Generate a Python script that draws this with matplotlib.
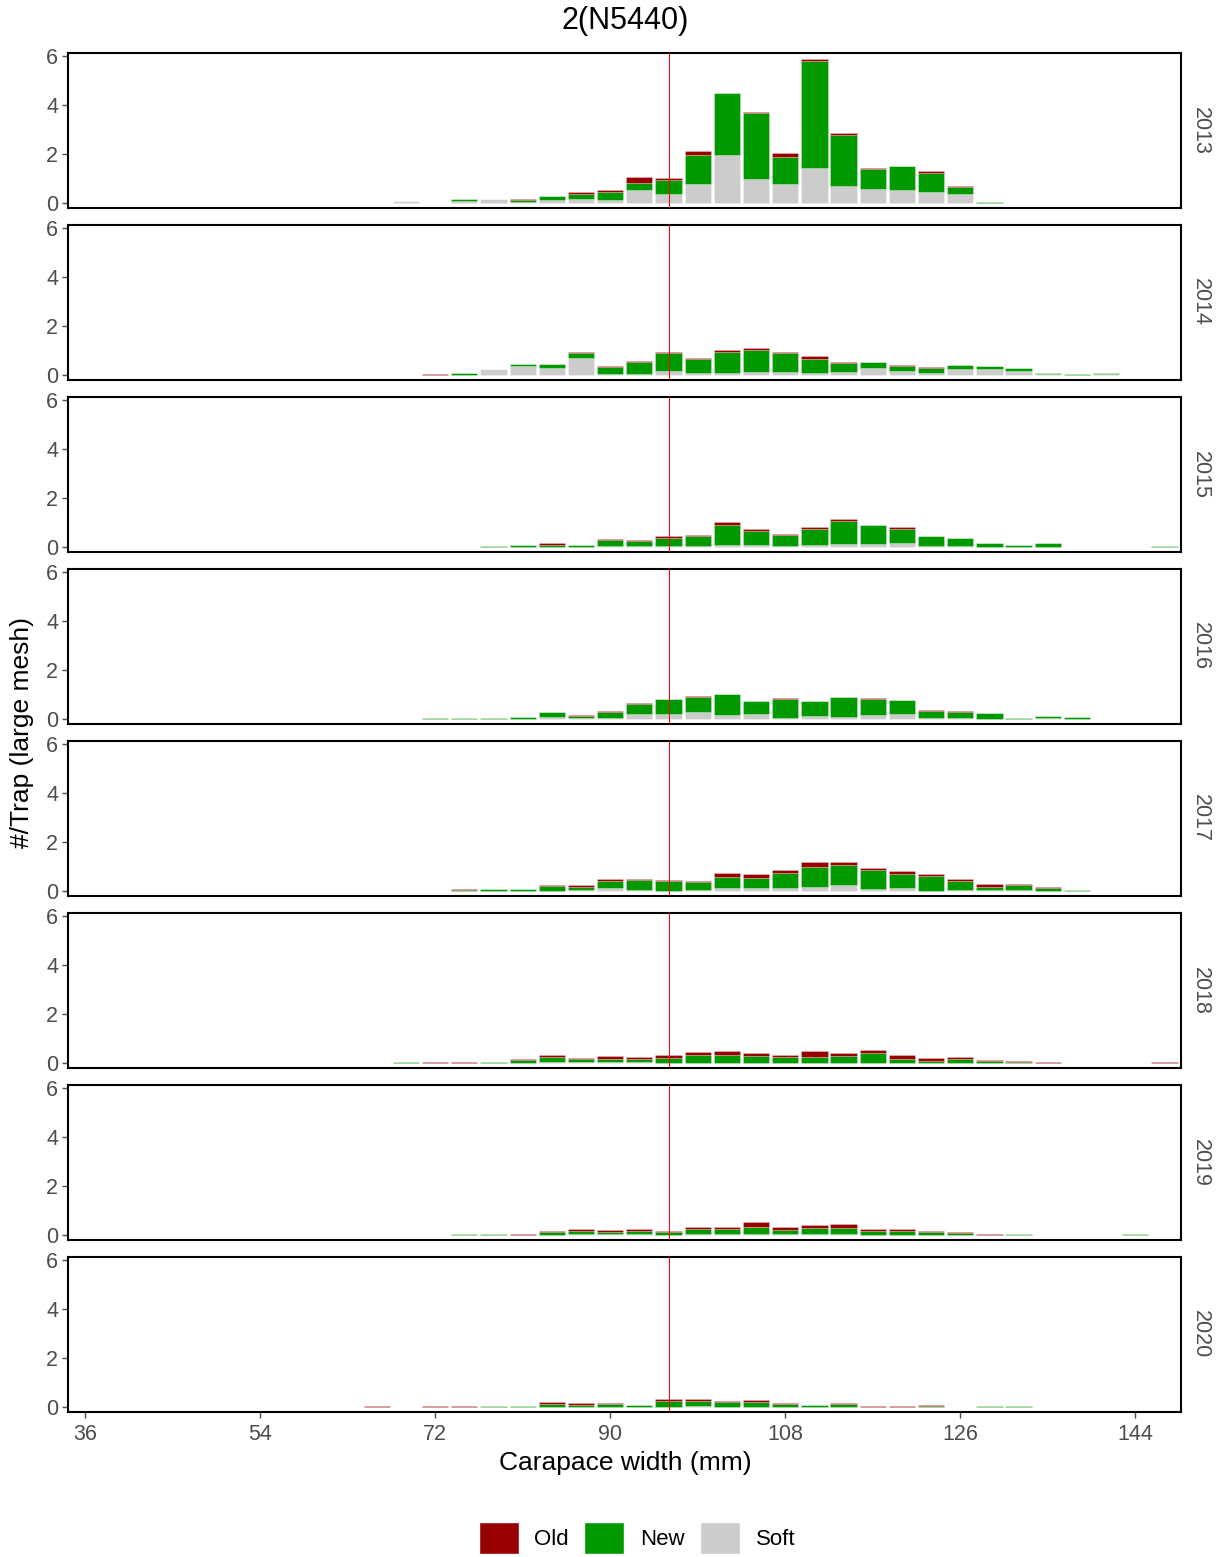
import matplotlib
matplotlib.use("Agg")
import matplotlib.pyplot as plt
from matplotlib.patches import Patch

plt.rcParams['font.family'] = ['Liberation Sans', 'DejaVu Sans']

# carapace width bins (mm), bar centres
widths = [42, 45, 48, 51, 54, 57, 60, 63, 66,
          69, 72, 75, 78, 81, 84, 87, 90, 93,
          96, 99, 102, 105, 108, 111, 114, 117, 120,
          123, 126, 129, 132, 135, 138, 141, 144, 147]
years = [2013, 2014, 2015, 2016, 2017, 2018, 2019, 2020]

# #/trap by shell condition, one list per year
old_2013 = [0, 0, 0, 0, 0, 0, 0, 0, 0,
            0, 0, 0, 0, 0.04, 0, 0.07, 0.1, 0.23,
            0.07, 0.14, 0, 0.05, 0.18, 0.08, 0.08, 0.05, 0,
            0.08, 0.07, 0, 0, 0, 0, 0, 0, 0]
new_2013 = [0, 0, 0, 0, 0, 0, 0, 0, 0,
            0, 0, 0.08, 0, 0.07, 0.16, 0.2, 0.34, 0.29,
            0.56, 1.22, 2.53, 2.69, 1.1, 4.35, 2.07, 0.8, 1.0,
            0.79, 0.27, 0.04, 0, 0, 0, 0, 0, 0]
soft_2013 = [0, 0, 0, 0, 0, 0, 0, 0, 0,
             0.1, 0, 0.08, 0.16, 0.05, 0.11, 0.18, 0.11, 0.54,
             0.38, 0.76, 1.95, 0.97, 0.76, 1.44, 0.69, 0.57, 0.52,
             0.44, 0.37, 0, 0, 0, 0, 0, 0, 0]

old_2014 = [0, 0, 0, 0, 0, 0, 0, 0, 0,
            0, 0.02, 0.02, 0, 0, 0, 0.05, 0.04, 0.04,
            0.04, 0.05, 0.07, 0.08, 0.04, 0.1, 0.05, 0, 0.04,
            0.02, 0, 0, 0, 0, 0, 0, 0.02, 0]
new_2014 = [0, 0, 0, 0, 0, 0.02, 0, 0, 0,
            0, 0.02, 0.06, 0, 0.08, 0.15, 0.22, 0.3, 0.49,
            0.71, 0.57, 0.84, 0.9, 0.79, 0.56, 0.34, 0.26, 0.22,
            0.2, 0.18, 0.15, 0.12, 0.05, 0.03, 0.07, 0, 0]
soft_2014 = [0, 0, 0, 0, 0, 0, 0, 0, 0,
             0, 0, 0.02, 0.24, 0.38, 0.3, 0.68, 0.03, 0.04,
             0.18, 0.07, 0.1, 0.14, 0.11, 0.1, 0.14, 0.27, 0.15,
             0.1, 0.25, 0.24, 0.18, 0.05, 0, 0.03, 0, 0]

old_2015 = [0, 0, 0, 0, 0, 0, 0, 0, 0,
            0, 0, 0, 0, 0.03, 0.1, 0, 0.07, 0.03,
            0.07, 0.03, 0.1, 0.08, 0.04, 0.08, 0.08, 0, 0.08,
            0, 0, 0, 0, 0, 0, 0, 0, 0]
new_2015 = [0, 0, 0, 0, 0, 0, 0, 0.02, 0,
            0.02, 0.02, 0, 0.03, 0.05, 0.07, 0.08, 0.25, 0.23,
            0.33, 0.44, 0.82, 0.57, 0.45, 0.67, 0.93, 0.76, 0.57,
            0.4, 0.33, 0.16, 0.1, 0.15, 0.02, 0, 0, 0.04]
soft_2015 = [0, 0, 0, 0, 0, 0, 0, 0, 0,
             0, 0, 0, 0, 0.02, 0, 0.02, 0.03, 0.03,
             0.05, 0.03, 0.1, 0.08, 0.04, 0.07, 0.12, 0.14, 0.15,
             0.04, 0.05, 0.02, 0, 0, 0, 0, 0, 0]

old_2016 = [0, 0, 0, 0, 0, 0, 0, 0, 0,
            0, 0, 0, 0, 0, 0, 0.04, 0.02, 0.04,
            0, 0.03, 0, 0, 0.03, 0, 0, 0.05, 0,
            0.05, 0.04, 0, 0, 0, 0, 0, 0, 0]
new_2016 = [0, 0, 0, 0, 0, 0, 0, 0, 0,
            0, 0.03, 0.05, 0.03, 0.08, 0.2, 0.11, 0.25, 0.4,
            0.6, 0.63, 0.84, 0.54, 0.76, 0.64, 0.79, 0.64, 0.57,
            0.3, 0.24, 0.21, 0.05, 0.1, 0.08, 0, 0, 0]
soft_2016 = [0, 0, 0, 0, 0, 0, 0, 0, 0,
             0, 0, 0, 0, 0, 0.08, 0.03, 0.04, 0.2,
             0.22, 0.27, 0.18, 0.2, 0.05, 0.11, 0.1, 0.18, 0.2,
             0.03, 0.03, 0.02, 0, 0.03, 0.02, 0, 0, 0]

old_2017 = [0.02, 0, 0, 0, 0, 0, 0, 0, 0,
            0, 0.02, 0.02, 0, 0.02, 0.03, 0.08, 0.07, 0.03,
            0.03, 0.07, 0.16, 0.14, 0.1, 0.19, 0.11, 0.1, 0.11,
            0.08, 0.08, 0.1, 0.04, 0.03, 0.01, 0, 0, 0]
new_2017 = [0, 0, 0, 0, 0, 0, 0, 0.02, 0.02,
            0, 0, 0.05, 0.06, 0.07, 0.18, 0.12, 0.31, 0.41,
            0.4, 0.33, 0.45, 0.43, 0.62, 0.82, 0.8, 0.76, 0.56,
            0.63, 0.38, 0.14, 0.22, 0.1, 0.02, 0, 0, 0]
soft_2017 = [0, 0, 0, 0, 0.02, 0, 0, 0, 0,
             0.02, 0, 0, 0.02, 0, 0.02, 0.03, 0.11, 0.06,
             0.02, 0.03, 0.14, 0.11, 0.12, 0.16, 0.26, 0.08, 0.14,
             0, 0.04, 0.03, 0.03, 0.02, 0.02, 0, 0, 0]

old_2018 = [0, 0, 0, 0, 0, 0, 0, 0, 0,
            0, 0.015, 0.01, 0.02, 0.03, 0.07, 0.07, 0.1, 0.08,
            0.11, 0.14, 0.19, 0.13, 0.07, 0.22, 0.12, 0.1, 0.15,
            0.1, 0.08, 0.03, 0.04, 0.03, 0, 0, 0, 0.03]
new_2018 = [0, 0, 0, 0, 0, 0, 0, 0, 0,
            0.04, 0, 0.02, 0.03, 0.1, 0.22, 0.11, 0.14, 0.11,
            0.18, 0.31, 0.31, 0.29, 0.23, 0.26, 0.3, 0.4, 0.18,
            0.09, 0.15, 0.09, 0.06, 0, 0, 0, 0, 0]
soft_2018 = [0, 0, 0, 0, 0, 0, 0, 0, 0,
             0, 0.015, 0, 0, 0.02, 0.04, 0.04, 0.04, 0.04,
             0.02, 0, 0, 0, 0.01, 0, 0, 0.02, 0,
             0, 0, 0, 0, 0, 0, 0, 0, 0]

old_2019 = [0, 0, 0, 0, 0.02, 0, 0, 0, 0,
            0, 0, 0, 0, 0.015, 0.05, 0.07, 0.08, 0.09,
            0.06, 0.1, 0.1, 0.22, 0.1, 0.12, 0.16, 0.07, 0.07,
            0.06, 0.05, 0.04, 0.02, 0, 0, 0, 0, 0]
new_2019 = [0, 0, 0, 0, 0, 0, 0, 0, 0,
            0, 0, 0.03, 0.06, 0.015, 0.1, 0.14, 0.11, 0.13,
            0.1, 0.2, 0.2, 0.28, 0.18, 0.24, 0.25, 0.15, 0.15,
            0.09, 0.06, 0, 0.03, 0.01, 0, 0, 0.03, 0]
soft_2019 = [0, 0, 0, 0, 0, 0, 0, 0, 0,
             0.01, 0, 0, 0, 0, 0.02, 0.03, 0.03, 0.03,
             0.02, 0.03, 0.03, 0.05, 0.03, 0.04, 0.04, 0.02, 0.02,
             0.02, 0.01, 0, 0, 0, 0, 0, 0, 0]

old_2020 = [0, 0, 0, 0, 0, 0, 0, 0, 0.03,
            0, 0.015, 0.01, 0, 0, 0.08, 0.05, 0.06, 0.02,
            0.1, 0.1, 0.04, 0.08, 0.05, 0.02, 0.05, 0.04, 0.02,
            0.06, 0, 0, 0, 0, 0, 0, 0, 0]
new_2020 = [0, 0, 0, 0, 0, 0, 0, 0, 0,
            0, 0.015, 0.02, 0.05, 0.05, 0.12, 0.1, 0.1, 0.08,
            0.21, 0.2, 0.19, 0.2, 0.1, 0.08, 0.1, 0, 0.02,
            0.04, 0, 0.03, 0.03, 0, 0, 0, 0, 0]
soft_2020 = [0, 0, 0, 0, 0, 0, 0, 0, 0,
             0, 0, 0, 0, 0, 0.02, 0, 0.01, 0,
             0.02, 0.03, 0.02, 0.02, 0.02, 0, 0.02, 0, 0,
             0, 0, 0, 0, 0, 0, 0, 0, 0]

old = [old_2013, old_2014, old_2015, old_2016, old_2017, old_2018, old_2019, old_2020]
new = [new_2013, new_2014, new_2015, new_2016, new_2017, new_2018, new_2019, new_2020]
soft = [soft_2013, soft_2014, soft_2015, soft_2016, soft_2017, soft_2018, soft_2019, soft_2020]

ref_size = 96
col_old, col_new, col_soft = "#990000", "#009900", "#CCCCCC"
grey = "#4D4D4D"
edge = (1, 1, 1, 0.45)

W, H = 1221, 1557
fig = plt.figure(figsize=(W / 100, H / 100), dpi=100)
fig.patch.set_facecolor("white")

left, right = 68, 1181
for i, yr in enumerate(years):
    top = 53 + 172 * i
    ax = fig.add_axes([left / W, 1 - (top + 155) / H, (right - left) / W, 155 / H])
    s = soft[i]
    n = new[i]
    o = old[i]
    sn = [a + b for a, b in zip(s, n)]
    kw = dict(width=2.7, edgecolor=edge, linewidth=0.4)
    ax.bar(widths, s, color=col_soft, **kw)
    ax.bar(widths, n, bottom=s, color=col_new, **kw)
    ax.bar(widths, o, bottom=sn, color=col_old, **kw)
    ax.axvline(ref_size, color="#FF0000", linewidth=0.5, zorder=3,
               antialiased=False)

    ax.set_xlim(34.25, 148.7)
    ax.set_ylim(-0.2, 6.12)
    ax.set_yticks([0, 2, 4, 6])
    ax.set_xticks([36, 54, 72, 90, 108, 126, 144])
    ax.tick_params(axis="both", colors=grey, labelsize=15.5, length=4, width=1, pad=3)
    ax.tick_params(axis="x", pad=5)
    if i < len(years) - 1:
        ax.tick_params(axis="x", bottom=False, labelbottom=False)
    for sp in ax.spines.values():
        sp.set_linewidth(1.5)
        sp.set_color("black")
    ax.text(1.008, 0.5, str(yr), transform=ax.transAxes, rotation=-90,
            ha="left", va="center", fontsize=15.5, color=grey)

fig.text(625 / W, 1 - 21 / H, "2(N5440)", ha="center", va="center", fontsize=22)
fig.text(625 / W, 1 - 1463 / H, "Carapace width (mm)", ha="center", va="center", fontsize=19)
fig.text(22 / W, 1 - 733 / H, "#/Trap (large mesh)", ha="center", va="center",
         rotation=90, fontsize=19)

handles = [Patch(facecolor=col_old, edgecolor="white", label="Old"),
           Patch(facecolor=col_new, edgecolor="white", label="New"),
           Patch(facecolor=col_soft, edgecolor="white", label="Soft")]
fig.legend(handles=handles, loc="center", bbox_to_anchor=(637 / W, 1 - 1538 / H),
           ncol=3, frameon=False, fontsize=16, handlelength=1.8, handleheight=1.8,
           columnspacing=0.7, handletextpad=0.7, borderpad=0.2)

fig.savefig("out.png", dpi=100)
